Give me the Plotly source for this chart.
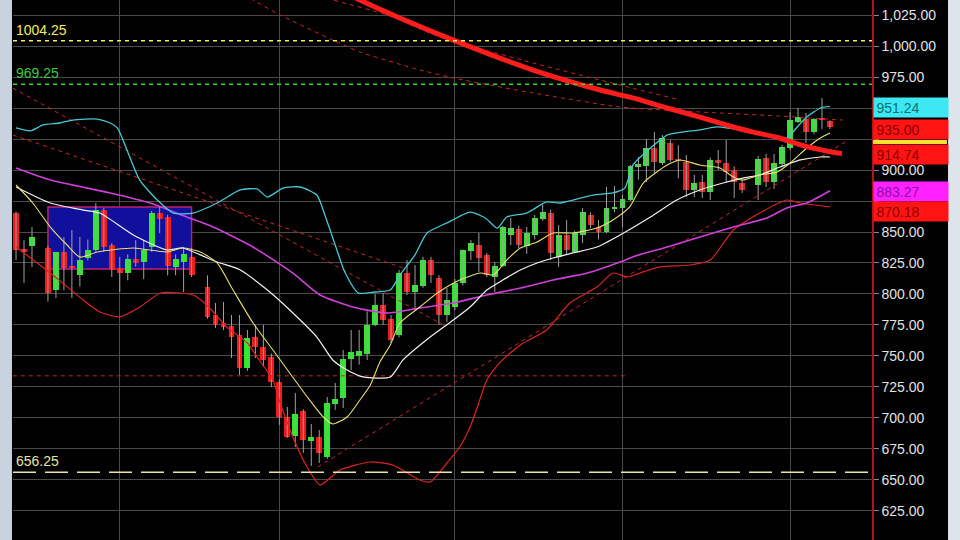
import plotly.graph_objects as go

# ---------------- candle data (bar index, OHLC) ----------------
bar_index = [0, 1, 2, 4, 5, 6, 7, 8, 9, 10, 11, 12, 13, 14, 15, 16, 17, 18, 19, 20, 21, 22,
             24, 25, 26, 27, 28, 29, 30, 31, 32, 33, 34, 35, 36, 37, 38, 39, 40, 41, 42, 43, 44, 45, 46, 47, 48, 49, 50,
             51, 52, 53, 54, 55, 56, 57, 58, 59, 60, 61, 62, 63, 64, 65, 66, 67, 68, 69, 70, 71, 72, 73, 74, 75, 76, 77, 78, 79, 80,
             81, 82, 83, 84, 85, 86, 87, 88, 89, 90, 91,
             93, 94, 95, 96, 97, 98, 99, 100, 101, 102]

opens = [865.6, 836, 838.7, 836.9, 803, 833.5, 822, 815.3, 829, 835.5, 867.7, 839.5, 821, 817, 828, 825.8, 837.7, 865, 862, 822, 826, 829.8,
         805.6, 783, 776.6, 774.2, 766.9, 740.3, 765.3, 757.3, 749.2, 729, 700.8, 685.5, 705.6, 681.5, 684.7, 668.5, 711.3, 716, 747.3, 750, 752, 775, 791, 780, 767, 817, 801.6,
         806.5, 827.4, 812.9, 783, 789.5, 808.9, 834.7, 839.5, 831.5, 813.7, 822.6, 847.6, 852.4, 838.7, 847.6, 860.5, 865, 830, 847.6, 833.9, 847.6, 863.7, 854, 850, 868.5, 869.4, 876, 902.4, 903.2, 917.7,
         905.6, 921.8, 909, 906.5, 884, 890.3, 882.3, 908, 905.6, 900, 889.5,
         887.9, 909.7, 890.3, 904.8, 917.7, 938.7, 941.1, 930.6, 941.9, 939.5]

highs = [866.5, 843.5, 854, 838.7, 834, 846, 851.6, 846, 844, 873.4, 869.4, 841, 830, 832, 843.5, 843.5, 867, 870.2, 864, 832, 838, 837,
         815, 792.7, 793.5, 783, 783, 771, 775, 775, 752, 731, 708.9, 720.2, 707, 695.2, 690.3, 716.9, 728.2, 754.8, 771, 771, 786, 800, 800.8, 783, 819.4, 827.4, 823.4,
         830, 830, 815, 804.8, 812, 836, 843.5, 849.2, 833, 825.8, 855, 861.3, 855, 854, 863.7, 871.8, 868, 855.6, 859.7, 851, 869.4, 865.8, 859.7, 886.3, 887, 880, 904, 910.5, 925, 930.6,
         928.2, 924, 920, 912, 896, 896, 910, 916.1, 924.2, 903, 892,
         911.3, 913, 913, 920.2, 946.8, 950, 946, 942, 958, 940]

lows = [827.4, 809, 821.8, 793.8, 796.8, 803, 796.8, 806, 827, 834, 834, 813.7, 801.6, 811, 822, 812, 834, 849, 815, 815, 801.6, 813.7,
        780, 772.6, 770.9, 748.4, 734.7, 738, 748.4, 741.1, 725, 694.4, 683.9, 676.6, 671.8, 661.3, 663.7, 667, 706.5, 708, 738.7, 743, 746.8, 774, 775, 760.5, 765, 799.2, 787.4,
        805, 808.9, 775, 777.4, 787, 807, 827.4, 817.7, 813.7, 801.6, 821.8, 839.5, 837, 832.3, 844, 859, 827.4, 821.8, 832.3, 833, 841, 853, 844, 849, 866, 854, 875, 892.3, 890.3, 897.6,
        904, 906.5, 893.3, 878.2, 878.2, 877.4, 875.8, 900, 890.3, 877.4, 881.5,
        875.8, 886.3, 884.7, 903, 916, 937.9, 921.8, 928.9, 932.9, 933]

closes = [835.5, 834, 845.9, 801, 833.5, 820.6, 821, 827.4, 835.5, 867.7, 837.7, 819.4, 817, 828.2, 825, 835.5, 865.1, 860.5, 822.6, 828, 832, 815.3,
          781.5, 775, 773.4, 765.3, 740.3, 764.5, 757.3, 746.8, 729, 700.8, 684.7, 703.2, 682.3, 684.7, 671.8, 712.1, 715.3, 747.6, 753.2, 754, 775, 791.1, 779, 762.9, 816.9, 801.6, 807.3,
          827.4, 815.3, 783, 795.2, 808.9, 835.5, 841.1, 829, 815.3, 822.6, 854, 853.2, 839.5, 849.2, 861.3, 866.1, 833.1, 847.6, 835.5, 849.2, 866, 855.6, 850, 869.4, 870.2, 876.6, 903.2, 904.8, 917.7, 906.5,
          925.8, 908, 907, 883.9, 889.5, 882.3, 908, 905.6, 898.4, 890.3, 883.9,
          908.9, 890.3, 905.6, 918.5, 940.3, 942.7, 930.6, 941.1, 940.3, 935.0]

# ---------------- indicator lines (bar index, price) ----------------
cyan_x = [0, 1.8, 3.4, 5.5, 7.1, 10.2, 11.8, 12.7, 13.9, 15.5, 17.7, 19.7, 22.2, 25.2, 28.1, 30.2, 31.5, 33.5, 35.6, 37.7,
          38.7, 40.0, 41.2, 42.9, 45.0, 46.9, 48.1, 50.0, 51.5, 54.0, 56.9, 58.8, 60.3, 61.5, 64.0, 66.5, 68.2, 72.3, 74.8, 76.3,
          77.3, 79.5, 81.6, 85.7, 87.8, 89.9, 92.9, 94.9, 96.6, 97.9, 99.1, 100.8, 102]
cyan_y = [933.9, 931.5, 936.3, 937.9, 940.3, 941.1, 937.9, 933.9, 916.1, 891.9, 875.8, 865.3, 865.3, 873.4, 883.9, 884.7, 878.2, 885.5, 886.3, 879.8,
          863.7, 839.5, 817.7, 800.8, 801.6, 803.2, 815.3, 831.5, 849.2, 857.3, 866.1, 861.3, 853.2, 862.1, 865.3, 874.2, 873.4, 879.8, 881.5, 885.5,
          904.0, 917.7, 928.2, 932.3, 934.7, 933.1, 930.6, 926.6, 925.8, 934.7, 942.7, 950.0, 951.24]

yellow_x = [0, 2.1, 4.3, 6.4, 8.0, 10.2, 14.7, 18.9, 20.9, 23.1, 25.2, 27.2, 29.7, 32.2, 34.3, 36.5, 38.5, 39.7, 41.5, 43.1,
            44.4, 45.6, 46.9, 48.1, 50.6, 52.8, 55.6, 58.2, 59.8, 61.5, 63.2, 65.3, 67.3, 69.8, 72.8, 74.8, 76.9, 78.6, 81.6, 83.2,
            85.7, 88.2, 89.9, 91.1, 93.2, 95.4, 97.0, 99.1, 100.8, 102]
yellow_y = [887.9, 873.4, 854.0, 839.5, 829.8, 833.9, 837.1, 833.9, 837.1, 833.9, 825.0, 803.2, 776.6, 754.8, 736.3, 716.9, 700.8, 695.2, 700.8, 714.5,
            726.6, 745.2, 758.9, 776.6, 789.5, 800.8, 811.3, 816.9, 815.3, 827.4, 837.1, 841.9, 849.2, 849.2, 853.2, 859.7, 870.2, 889.5, 904.0, 908.1,
            904.0, 901.6, 894.4, 891.9, 896.0, 898.4, 905.6, 917.7, 925.8, 929.8]

white_x = [0, 4.3, 8.4, 10.5, 14.7, 18.9, 20.9, 23.1, 25.2, 28.1, 31.5, 34.7, 37.7, 39.7, 41.5, 43.5, 46.9, 48.5, 51.9, 54.8,
           56.9, 59.0, 61.0, 63.2, 65.3, 67.3, 69.8, 72.8, 75.7, 79.5, 82.8, 85.7, 88.6, 91.1, 93.2, 95.4, 98.3, 100.8, 102]
white_y = [886.3, 873.4, 867.7, 865.3, 847.6, 835.5, 837.1, 831.5, 825.8, 819.4, 803.2, 784.7, 765.3, 746.8, 738.7, 733.1, 733.1, 746.8, 765.3, 779.0,
           789.5, 803.2, 811.3, 819.4, 825.0, 829.0, 833.1, 837.9, 847.6, 862.1, 875.8, 883.9, 889.5, 893.5, 896.0, 901.6, 908.1, 910.5, 910.5]

magenta_x = [0, 4.3, 11.8, 16.8, 21.4, 24.7, 29.7, 34.7, 38.1, 42.2, 46.5, 50.6, 54.8, 59.0, 63.2, 67.3, 71.6, 75.7, 77.6, 81.6,
             85.7, 89.9, 94.1, 96.6, 99.1, 102]
magenta_y = [901.6, 891.9, 881.5, 873.4, 862.1, 854.0, 837.9, 816.9, 799.2, 789.5, 784.7, 788.7, 792.7, 799.2, 804.8, 811.3, 816.9, 825.8, 830.6, 837.9,
             846.0, 854.0, 861.3, 869.4, 873.4, 883.27]

lower_x = [0, 4.3, 8.4, 10.5, 13.0, 15.5, 18.1, 20.6, 22.2, 23.9, 26.4, 29.0, 30.2, 32.2, 33.1, 34.7, 36.2, 38.1, 40.6, 44.4,
           47.2, 50.6, 51.9, 54.0, 55.6, 56.9, 57.9, 59.0, 60.7, 63.2, 66.5, 69.4, 72.8, 74.8, 76.6, 78.2, 80.7, 84.5, 87.0, 89.9,
           93.2, 96.6, 98.3, 102]
lower_y = [837.9, 816.9, 795.2, 785.5, 781.5, 789.5, 800.8, 800.8, 799.2, 791.1, 773.4, 760.5, 749.2, 730.6, 712.1, 684.7, 663.7, 646.0, 658.1, 664.5,
           662.1, 650.0, 648.4, 663.7, 676.6, 692.7, 710.5, 730.6, 745.2, 758.9, 771.0, 792.7, 805.6, 816.9, 813.7, 816.9, 821.8, 823.4, 827.4, 851.6,
           865.3, 875.8, 873.4, 870.18]

long_ma_x = [40.6, 43.1, 48.1, 54.8, 64.8, 73.2, 77.3, 81.6, 85.7, 89.9, 92.4, 95.7, 98.3, 102, 103.5]
long_ma_y = [1045.2, 1037.1, 1022.6, 1004.8, 980.6, 964.5, 958.1, 950.0, 942.7, 934.7, 930.6, 925.8, 920.2, 914.74, 913.2]

curve1_x = [26.8, 29.7, 33.1, 39.7, 43.1, 49.7, 54.8, 64.8, 75.7, 85.7, 95.7, 103.6]
curve1_y = [1047.6, 1037.1, 1025.0, 1004.8, 995.2, 982.3, 974.2, 962.1, 950.8, 946.8, 943.5, 940.3]
curve2_x = [37.0, 39.7, 46.5, 53.1, 64.8, 75.7, 83.2]
curve2_y = [1042.0, 1037.1, 1025.0, 1007.3, 986.3, 968.5, 956.5]

trend_a_x, trend_a_y = [-0.4, 54.0], [966.1, 773.4]
trend_b_x, trend_b_y = [-0.4, 48.5], [928.2, 821.0]
trend_d_x, trend_d_y = [37.8, 103.9], [660.5, 922.6]
support_x, support_y = [-0.4, 76.6], [734.0, 734.0]

levels = [1004.25, 969.25, 656.25]
level_labels = ["1004.25", "969.25", "656.25"]
level_colors = ["#f0ee60", "#3ccc3c", "#e6e4a8"]
level_dash = ["4px,4px", "4px,4px", "23px,9px"]

box_x = [4, 22]
box_y = [820.2, 870.2]

month_starts = [13, 33, 55, 76, 97]

price_ticks = [625, 650, 675, 700, 725, 750, 775, 800, 825, 850, 875, 900, 925, 950, 975, 1000, 1025]
covered_ticks = [875, 925, 950]   # hidden behind the last-value tags

last_labels = ["951.24", "935.00", "914.74", "883.27", "870.18"]
last_values = [951.24, 935.00, 914.74, 883.27, 870.18]
last_bg = ["#3ee8f2", "#ff1414", "#ff1414", "#ff22ff", "#ff1414"]
last_fg = ["#0a7070", "#8a0000", "#8a0000", "#8a10a8", "#8a0000"]
last_shift = [-1.5, -2.5, -2.5, -0.5, -4.5]

FONT = "Liberation Sans, Arial, sans-serif"
GREEN = "#2ee82e"
RED = "#f01a1a"

fig = go.Figure()

# wicks
wx, wy = [], []
for i, lo, hi in zip(bar_index, lows, highs):
    wx += [i, i, None]
    wy += [lo, hi, None]
fig.add_trace(go.Scatter(x=wx, y=wy, mode="lines", line=dict(color="#a0a0a0", width=1), hoverinfo="skip"))

# bodies
fig.add_trace(go.Bar(
    x=bar_index,
    y=[c - o for o, c in zip(opens, closes)],
    base=opens,
    width=0.74,
    marker=dict(color=[GREEN if c >= o else RED for o, c in zip(opens, closes)], line=dict(width=0)),
    hoverinfo="skip",
))

def line(x, y, color, width, dash=None, shape="spline"):
    fig.add_trace(go.Scatter(x=x, y=y, mode="lines",
                             line=dict(color=color, width=width, dash=dash, shape=shape, smoothing=0.6),
                             hoverinfo="skip"))

# dashed trend lines / curves
dash_red = "#c8262a"
line(trend_a_x, trend_a_y, dash_red, 1, "4px,4px", "linear")
line(trend_b_x, trend_b_y, dash_red, 1, "4px,4px", "linear")
line(trend_d_x, trend_d_y, dash_red, 1, "4px,4px", "linear")
line(support_x, support_y, dash_red, 1, "4px,4px", "linear")
line(curve1_x, curve1_y, dash_red, 1, "4px,4px")
line(curve2_x, curve2_y, dash_red, 1, "4px,4px")

# indicator lines
line(lower_x, lower_y, "#e02222", 1.2)
line(magenta_x, magenta_y, "#d040d8", 1.6)
line(white_x, white_y, "#f2f2f2", 1.2)
line(yellow_x, yellow_y, "#e8e070", 1.1)
line(cyan_x, cyan_y, "#46c8d6", 1.3)
line(long_ma_x, long_ma_y, "#ff1c1c", 5)

shapes = []
# blue rectangle
shapes.append(dict(type="rect", xref="x", yref="y", x0=box_x[0], x1=box_x[1], y0=box_y[0], y1=box_y[1],
                   fillcolor="#10109c", line=dict(color="#c02070", width=1.5), layer="between"))
# horizontal level lines
for v, c, d in zip(levels, level_colors, level_dash):
    shapes.append(dict(type="line", xref="paper", yref="y", x0=0, x1=1, y0=v, y1=v,
                       line=dict(color=c, width=1.5, dash=d), layer="above"))
# hidden label strip (yellow/white MA tags) between red boxes
shapes.append(dict(type="rect", xref="paper", yref="y", x0=1.0012, x1=1.0873, y0=921.0, y1=924.2,
                   fillcolor="#f4e030", line=dict(width=0), layer="above"))
# window frame bars
shapes.append(dict(type="rect", xref="paper", yref="paper", x0=-0.0152, x1=-0.0012, y0=0, y1=1,
                   fillcolor="#c9d3e0", line=dict(width=0), layer="above"))
shapes.append(dict(type="rect", xref="paper", yref="paper", x0=1.0885, x1=1.11, y0=0, y1=1,
                   fillcolor="#dde4ec", line=dict(width=0), layer="above"))

annotations = []
for txt, v, c in zip(level_labels, levels, level_colors):
    annotations.append(dict(xref="paper", x=0, xanchor="left", xshift=1, yref="y", y=v, yanchor="bottom", yshift=1,
                            text=txt, showarrow=False, font=dict(family=FONT, size=14, color=c)))
for txt, v, bg, fg, sh in zip(last_labels, last_values, last_bg, last_fg, last_shift):
    annotations.append(dict(xref="paper", x=1, xanchor="left", xshift=1, yref="y", y=v, yanchor="middle", yshift=sh,
                            text=txt, showarrow=False, bgcolor=bg, width=69, height=14, borderpad=2.5, align="left",
                            font=dict(family=FONT, size=14, color=fg)))

tick_text = ["" if t in covered_ticks else f"{t:,.2f}" for t in price_ticks]

fig.update_layout(
    width=960, height=540,
    margin=dict(l=13, r=88, t=0, b=0),
    paper_bgcolor="#000000", plot_bgcolor="#000000",
    showlegend=False, bargap=0,
    shapes=shapes, annotations=annotations,
    xaxis=dict(range=[-0.38, 107.27], tickvals=month_starts, showticklabels=False, ticks="",
               showgrid=True, gridcolor="#4a4a4a", gridwidth=1, zeroline=False, showline=False),
    yaxis=dict(side="right", range=[601.6, 1037.1], tickvals=price_ticks, ticktext=tick_text,
               showgrid=True, gridcolor="#4a4a4a", gridwidth=1, zeroline=False,
               ticks="outside", ticklen=5, tickcolor="#8a8a8a",
               tickfont=dict(family=FONT, size=14, color="#e2e2e2"),
               showline=True, linecolor="#b01414", linewidth=1.5),
)

fig.write_html("out.html",
               config={"displayModeBar": False},
               post_script="document.body.style.margin='0';document.body.style.background='#000';")
